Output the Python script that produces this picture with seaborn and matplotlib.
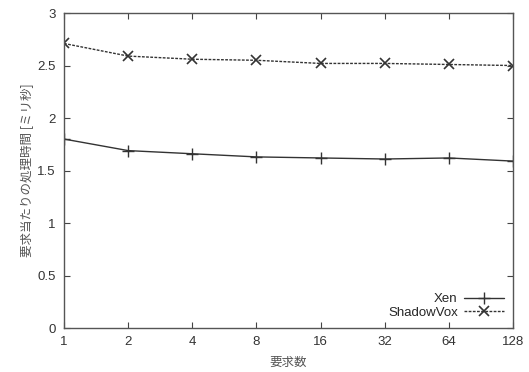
import pandas as pd
import matplotlib.pyplot as plt
import seaborn as sns
from matplotlib.ticker import FixedLocator, FixedFormatter, NullLocator

sns.set_style("white")
plt.rcParams['font.family'] = ['Liberation Sans', 'Noto Sans CJK JP', 'DejaVu Sans']

requests = [1, 2, 4, 8, 16, 32, 64, 128]
xen = [1.80, 1.69, 1.66, 1.63, 1.62, 1.61, 1.62, 1.59]
shadowvox = [2.71, 2.59, 2.56, 2.55, 2.52, 2.52, 2.51, 2.50]
tick_labels = ['1', '2', '4', '8', '16', '32', '64', '128']

df = pd.DataFrame({
    'requests': requests * 2,
    'time': xen + shadowvox,
    'system': ['Xen'] * len(xen) + ['ShadowVox'] * len(shadowvox),
})

fig, ax = plt.subplots(figsize=(5.29, 3.72), dpi=100)
sns.lineplot(data=df[df.system == 'Xen'], x='requests', y='time', ax=ax,
             color='#333333', lw=1.0, marker='+', markersize=9, mew=1.0,
             markeredgecolor='#333333', label='Xen')
sns.lineplot(data=df[df.system == 'ShadowVox'], x='requests', y='time', ax=ax,
             color='#333333', lw=1.0, ls=(0, (2, 1)), marker='x', markersize=7,
             mew=1.2, markeredgecolor='#333333', label='ShadowVox')

ax.set_xscale('log', base=2)
ax.set_xlim(1, 128)
ax.set_ylim(0, 3)
ax.xaxis.set_major_locator(FixedLocator(requests))
ax.xaxis.set_major_formatter(FixedFormatter(tick_labels))
ax.xaxis.set_minor_locator(NullLocator())
ax.set_yticks([0, 0.5, 1, 1.5, 2, 2.5, 3])
ax.set_yticklabels(['0', '0.5', '1', '1.5', '2', '2.5', '3'])
ax.tick_params(direction='in', length=4, color='#444444', labelsize=9.5,
               labelcolor='#333333', bottom=True, left=True, top=True,
               right=True, width=0.8, pad=6)

for s in ax.spines.values():
    s.set_color('#555555')
    s.set_linewidth(1.0)

ax.set_xlabel('要求数', fontsize=9, color='#555555', labelpad=5,
              family=['Noto Sans CJK JP', 'DejaVu Sans'])
ax.set_ylabel('要求当たりの処理時間 [ミリ秒]', fontsize=9, color='#555555',
              labelpad=2, family=['Noto Sans CJK JP', 'DejaVu Sans'])

ax.legend(loc='lower right', frameon=False, markerfirst=False, fontsize=9.5,
          handlelength=3.0, borderpad=0.2, labelspacing=0.1, handletextpad=0.5)

plt.subplots_adjust(left=0.121, right=0.97, top=0.965, bottom=0.118)
plt.savefig('out.png', dpi=100)
